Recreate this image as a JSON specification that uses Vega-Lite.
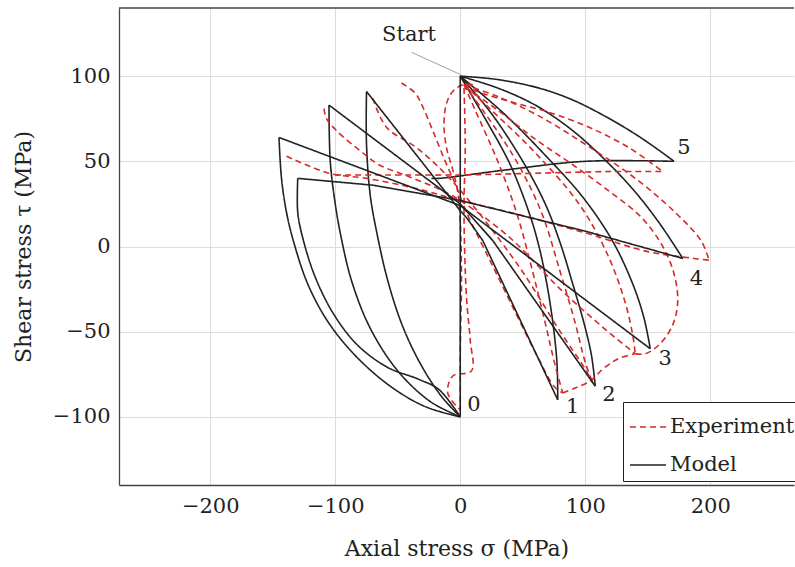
{
"$schema":"https://vega.github.io/schema/vega-lite/v6.json",
"width":675,"height":477,
"autosize":{"type":"none"},
"padding":{"left":119,"top":8,"right":1,"bottom":82},
"config":{"view":{"stroke":null},"font":"DejaVu Serif",
"axis":{"grid":true,"gridColor":"#dcdcdc","gridWidth":1,"domainColor":"#444","domainWidth":1.3,"ticks":false,"labelFontSize":21,"titleFontSize":22,"labelColor":"#222","titleColor":"#222","titleFontWeight":"normal","labelFont":"DejaVu Serif","titleFont":"DejaVu Serif"}},
"datasets":{
"curves":[
{"k":"l","s":"Model","p":"m0","i":0,"x":0,"y":100},{"k":"l","s":"Model","p":"m0","i":1,"x":0,"y":-100},
{"k":"s","s":"Model","p":"m1a","i":0,"x":0,"y":100},{"k":"s","s":"Model","p":"m1a","i":1,"x":20,"y":75},{"k":"s","s":"Model","p":"m1a","i":2,"x":40,"y":48},{"k":"s","s":"Model","p":"m1a","i":3,"x":55,"y":20},{"k":"s","s":"Model","p":"m1a","i":4,"x":63,"y":0},{"k":"s","s":"Model","p":"m1a","i":5,"x":70,"y":-25},{"k":"s","s":"Model","p":"m1a","i":6,"x":75,"y":-50},{"k":"s","s":"Model","p":"m1a","i":7,"x":77.5,"y":-70},{"k":"s","s":"Model","p":"m1a","i":8,"x":78,"y":-90},
{"k":"l","s":"Model","p":"m1b","i":0,"x":78,"y":-90},{"k":"l","s":"Model","p":"m1b","i":1,"x":18,"y":3.5},{"k":"l","s":"Model","p":"m1b","i":2,"x":6,"y":16},{"k":"l","s":"Model","p":"m1b","i":3,"x":0,"y":21},{"k":"l","s":"Model","p":"m1b","i":4,"x":-75,"y":91},
{"k":"s","s":"Model","p":"m1c","i":0,"x":-75,"y":91},{"k":"s","s":"Model","p":"m1c","i":1,"x":-75,"y":60},{"k":"s","s":"Model","p":"m1c","i":2,"x":-72,"y":30},{"k":"s","s":"Model","p":"m1c","i":3,"x":-67,"y":9},{"k":"s","s":"Model","p":"m1c","i":4,"x":-58,"y":-20},{"k":"s","s":"Model","p":"m1c","i":5,"x":-46,"y":-47},{"k":"s","s":"Model","p":"m1c","i":6,"x":-31,"y":-70},{"k":"s","s":"Model","p":"m1c","i":7,"x":-15,"y":-88},{"k":"s","s":"Model","p":"m1c","i":8,"x":0,"y":-100},
{"k":"s","s":"Model","p":"m2a","i":0,"x":0,"y":100},{"k":"s","s":"Model","p":"m2a","i":1,"x":25,"y":78},{"k":"s","s":"Model","p":"m2a","i":2,"x":50,"y":50},{"k":"s","s":"Model","p":"m2a","i":3,"x":68,"y":25},{"k":"s","s":"Model","p":"m2a","i":4,"x":80,"y":2},{"k":"s","s":"Model","p":"m2a","i":5,"x":90,"y":-22},{"k":"s","s":"Model","p":"m2a","i":6,"x":99,"y":-45},{"k":"s","s":"Model","p":"m2a","i":7,"x":105,"y":-64},{"k":"s","s":"Model","p":"m2a","i":8,"x":108,"y":-82},
{"k":"l","s":"Model","p":"m2b","i":0,"x":108,"y":-82},{"k":"l","s":"Model","p":"m2b","i":1,"x":26,"y":3.5},{"k":"l","s":"Model","p":"m2b","i":2,"x":0,"y":25},{"k":"l","s":"Model","p":"m2b","i":3,"x":-105,"y":83},
{"k":"s","s":"Model","p":"m2c","i":0,"x":-105,"y":83},{"k":"s","s":"Model","p":"m2c","i":1,"x":-104,"y":50},{"k":"s","s":"Model","p":"m2c","i":2,"x":-100,"y":25},{"k":"s","s":"Model","p":"m2c","i":3,"x":-96,"y":8},{"k":"s","s":"Model","p":"m2c","i":4,"x":-87,"y":-20},{"k":"s","s":"Model","p":"m2c","i":5,"x":-72,"y":-48},{"k":"s","s":"Model","p":"m2c","i":6,"x":-50,"y":-73},{"k":"s","s":"Model","p":"m2c","i":7,"x":-24,"y":-91},{"k":"s","s":"Model","p":"m2c","i":8,"x":0,"y":-100},
{"k":"s","s":"Model","p":"m3a","i":0,"x":0,"y":100},{"k":"s","s":"Model","p":"m3a","i":1,"x":35,"y":78},{"k":"s","s":"Model","p":"m3a","i":2,"x":70,"y":52},{"k":"s","s":"Model","p":"m3a","i":3,"x":98,"y":29},{"k":"s","s":"Model","p":"m3a","i":4,"x":122,"y":3},{"k":"s","s":"Model","p":"m3a","i":5,"x":138,"y":-22},{"k":"s","s":"Model","p":"m3a","i":6,"x":147,"y":-42},{"k":"s","s":"Model","p":"m3a","i":7,"x":152,"y":-60},
{"k":"l","s":"Model","p":"m3b","i":0,"x":152,"y":-60},{"k":"l","s":"Model","p":"m3b","i":1,"x":0,"y":24},{"k":"l","s":"Model","p":"m3b","i":2,"x":-145,"y":64},
{"k":"s","s":"Model","p":"m3c","i":0,"x":-145,"y":64},{"k":"s","s":"Model","p":"m3c","i":1,"x":-143,"y":40},{"k":"s","s":"Model","p":"m3c","i":2,"x":-139,"y":20},{"k":"s","s":"Model","p":"m3c","i":3,"x":-133,"y":2},{"k":"s","s":"Model","p":"m3c","i":4,"x":-122,"y":-22},{"k":"s","s":"Model","p":"m3c","i":5,"x":-106,"y":-44},{"k":"s","s":"Model","p":"m3c","i":6,"x":-84,"y":-64},{"k":"s","s":"Model","p":"m3c","i":7,"x":-56,"y":-82},{"k":"s","s":"Model","p":"m3c","i":8,"x":-28,"y":-94},{"k":"s","s":"Model","p":"m3c","i":9,"x":0,"y":-100},
{"k":"s","s":"Model","p":"m4a","i":0,"x":0,"y":100},{"k":"s","s":"Model","p":"m4a","i":1,"x":30,"y":93},{"k":"s","s":"Model","p":"m4a","i":2,"x":60,"y":83},{"k":"s","s":"Model","p":"m4a","i":3,"x":90,"y":68},{"k":"s","s":"Model","p":"m4a","i":4,"x":117,"y":50},{"k":"s","s":"Model","p":"m4a","i":5,"x":140,"y":32},{"k":"s","s":"Model","p":"m4a","i":6,"x":160,"y":13},{"k":"s","s":"Model","p":"m4a","i":7,"x":178,"y":-7},
{"k":"l","s":"Model","p":"m4b","i":0,"x":178,"y":-7},{"k":"l","s":"Model","p":"m4b","i":1,"x":100,"y":9},{"k":"l","s":"Model","p":"m4b","i":2,"x":0,"y":27},{"k":"l","s":"Model","p":"m4b","i":3,"x":-70,"y":36},{"k":"l","s":"Model","p":"m4b","i":4,"x":-130,"y":40},
{"k":"s","s":"Model","p":"m4c","i":0,"x":-130,"y":40},{"k":"s","s":"Model","p":"m4c","i":1,"x":-130,"y":20},{"k":"s","s":"Model","p":"m4c","i":2,"x":-126,"y":5},{"k":"s","s":"Model","p":"m4c","i":3,"x":-116,"y":-18},{"k":"s","s":"Model","p":"m4c","i":4,"x":-101,"y":-40},{"k":"s","s":"Model","p":"m4c","i":5,"x":-82,"y":-58},{"k":"s","s":"Model","p":"m4c","i":6,"x":-58,"y":-71},{"k":"s","s":"Model","p":"m4c","i":7,"x":-33,"y":-78},{"k":"s","s":"Model","p":"m4c","i":8,"x":-17,"y":-84},{"k":"s","s":"Model","p":"m4c","i":9,"x":0,"y":-100},
{"k":"s","s":"Model","p":"m5a","i":0,"x":0,"y":100},{"k":"s","s":"Model","p":"m5a","i":1,"x":30,"y":98},{"k":"s","s":"Model","p":"m5a","i":2,"x":63,"y":93},{"k":"s","s":"Model","p":"m5a","i":3,"x":90,"y":86},{"k":"s","s":"Model","p":"m5a","i":4,"x":117,"y":76},{"k":"s","s":"Model","p":"m5a","i":5,"x":140,"y":66},{"k":"s","s":"Model","p":"m5a","i":6,"x":158,"y":57},{"k":"s","s":"Model","p":"m5a","i":7,"x":171,"y":50},
{"k":"s","s":"Model","p":"m5b","i":0,"x":171,"y":50},{"k":"s","s":"Model","p":"m5b","i":1,"x":100,"y":50},{"k":"s","s":"Model","p":"m5b","i":2,"x":37,"y":45},{"k":"s","s":"Model","p":"m5b","i":3,"x":-17,"y":40},{"k":"s","s":"Model","p":"m5b","i":4,"x":-23,"y":40},
{"k":"s","s":"Experiment","p":"e0a","i":0,"x":10,"y":95},{"k":"s","s":"Experiment","p":"e0a","i":1,"x":2,"y":95},{"k":"s","s":"Experiment","p":"e0a","i":2,"x":-6,"y":91},{"k":"s","s":"Experiment","p":"e0a","i":3,"x":-11,"y":84},{"k":"s","s":"Experiment","p":"e0a","i":4,"x":-13,"y":72},{"k":"s","s":"Experiment","p":"e0a","i":5,"x":-11,"y":58},{"k":"s","s":"Experiment","p":"e0a","i":6,"x":-6,"y":45},{"k":"s","s":"Experiment","p":"e0a","i":7,"x":-2,"y":32},{"k":"s","s":"Experiment","p":"e0a","i":8,"x":0,"y":15},{"k":"s","s":"Experiment","p":"e0a","i":9,"x":1,"y":-20},{"k":"s","s":"Experiment","p":"e0a","i":10,"x":0,"y":-60},{"k":"s","s":"Experiment","p":"e0a","i":11,"x":0,"y":-95},
{"k":"s","s":"Experiment","p":"e0b","i":0,"x":3,"y":93},{"k":"s","s":"Experiment","p":"e0b","i":1,"x":4,"y":60},{"k":"s","s":"Experiment","p":"e0b","i":2,"x":3,"y":20},{"k":"s","s":"Experiment","p":"e0b","i":3,"x":5,"y":-30},{"k":"s","s":"Experiment","p":"e0b","i":4,"x":8,"y":-55},{"k":"s","s":"Experiment","p":"e0b","i":5,"x":9,"y":-73},{"k":"s","s":"Experiment","p":"e0b","i":6,"x":-6,"y":-76},{"k":"s","s":"Experiment","p":"e0b","i":7,"x":-10,"y":-86},{"k":"s","s":"Experiment","p":"e0b","i":8,"x":0,"y":-96},
{"k":"s","s":"Experiment","p":"e1","i":0,"x":-47,"y":96},{"k":"s","s":"Experiment","p":"e1","i":1,"x":-36,"y":90},{"k":"s","s":"Experiment","p":"e1","i":2,"x":-30,"y":82},{"k":"s","s":"Experiment","p":"e1","i":3,"x":-22,"y":68},{"k":"s","s":"Experiment","p":"e1","i":4,"x":-12,"y":50},{"k":"s","s":"Experiment","p":"e1","i":5,"x":-3,"y":35},{"k":"s","s":"Experiment","p":"e1","i":6,"x":5,"y":20},{"k":"s","s":"Experiment","p":"e1","i":7,"x":25,"y":-10},{"k":"s","s":"Experiment","p":"e1","i":8,"x":45,"y":-40},{"k":"s","s":"Experiment","p":"e1","i":9,"x":62,"y":-65},{"k":"s","s":"Experiment","p":"e1","i":10,"x":75,"y":-82},{"k":"s","s":"Experiment","p":"e1","i":11,"x":82,"y":-86},
{"k":"s","s":"Experiment","p":"e2","i":0,"x":-70,"y":87},{"k":"s","s":"Experiment","p":"e2","i":1,"x":-59,"y":70},{"k":"s","s":"Experiment","p":"e2","i":2,"x":-35,"y":58},{"k":"s","s":"Experiment","p":"e2","i":3,"x":-15,"y":45},{"k":"s","s":"Experiment","p":"e2","i":4,"x":0,"y":33},{"k":"s","s":"Experiment","p":"e2","i":5,"x":20,"y":15},{"k":"s","s":"Experiment","p":"e2","i":6,"x":50,"y":-15},{"k":"s","s":"Experiment","p":"e2","i":7,"x":80,"y":-50},{"k":"s","s":"Experiment","p":"e2","i":8,"x":100,"y":-72},{"k":"s","s":"Experiment","p":"e2","i":9,"x":106,"y":-80},
{"k":"s","s":"Experiment","p":"e3","i":0,"x":-109,"y":81},{"k":"s","s":"Experiment","p":"e3","i":1,"x":-107,"y":75},{"k":"s","s":"Experiment","p":"e3","i":2,"x":-99,"y":68},{"k":"s","s":"Experiment","p":"e3","i":3,"x":-78,"y":55},{"k":"s","s":"Experiment","p":"e3","i":4,"x":-65,"y":48},{"k":"s","s":"Experiment","p":"e3","i":5,"x":-41,"y":41},{"k":"s","s":"Experiment","p":"e3","i":6,"x":-15,"y":33},{"k":"s","s":"Experiment","p":"e3","i":7,"x":0,"y":27},{"k":"s","s":"Experiment","p":"e3","i":8,"x":40,"y":5},{"k":"s","s":"Experiment","p":"e3","i":9,"x":80,"y":-25},{"k":"s","s":"Experiment","p":"e3","i":10,"x":115,"y":-48},{"k":"s","s":"Experiment","p":"e3","i":11,"x":135,"y":-60},{"k":"s","s":"Experiment","p":"e3","i":12,"x":140,"y":-63},
{"k":"s","s":"Experiment","p":"e4","i":0,"x":-139,"y":53},{"k":"s","s":"Experiment","p":"e4","i":1,"x":-105,"y":43},{"k":"s","s":"Experiment","p":"e4","i":2,"x":-75,"y":40},{"k":"s","s":"Experiment","p":"e4","i":3,"x":-35,"y":34},{"k":"s","s":"Experiment","p":"e4","i":4,"x":0,"y":27},{"k":"s","s":"Experiment","p":"e4","i":5,"x":40,"y":20},{"k":"s","s":"Experiment","p":"e4","i":6,"x":100,"y":8},{"k":"s","s":"Experiment","p":"e4","i":7,"x":150,"y":-3},{"k":"s","s":"Experiment","p":"e4","i":8,"x":187,"y":-7},{"k":"s","s":"Experiment","p":"e4","i":9,"x":199,"y":-8},
{"k":"s","s":"Experiment","p":"e5","i":0,"x":-100,"y":42},{"k":"s","s":"Experiment","p":"e5","i":1,"x":-60,"y":42},{"k":"s","s":"Experiment","p":"e5","i":2,"x":0,"y":42},{"k":"s","s":"Experiment","p":"e5","i":3,"x":60,"y":43},{"k":"s","s":"Experiment","p":"e5","i":4,"x":120,"y":44},{"k":"s","s":"Experiment","p":"e5","i":5,"x":162,"y":44},
{"k":"s","s":"Experiment","p":"e6","i":0,"x":82,"y":-86},{"k":"s","s":"Experiment","p":"e6","i":1,"x":92,"y":-83},{"k":"s","s":"Experiment","p":"e6","i":2,"x":104,"y":-79},{"k":"s","s":"Experiment","p":"e6","i":3,"x":114,"y":-72},{"k":"s","s":"Experiment","p":"e6","i":4,"x":126,"y":-66},{"k":"s","s":"Experiment","p":"e6","i":5,"x":140,"y":-63},
{"k":"s","s":"Experiment","p":"e12","i":0,"x":5,"y":93},{"k":"s","s":"Experiment","p":"e12","i":1,"x":30,"y":80},{"k":"s","s":"Experiment","p":"e12","i":2,"x":60,"y":63},{"k":"s","s":"Experiment","p":"e12","i":3,"x":90,"y":48},{"k":"s","s":"Experiment","p":"e12","i":4,"x":120,"y":32},{"k":"s","s":"Experiment","p":"e12","i":5,"x":145,"y":17},{"k":"s","s":"Experiment","p":"e12","i":6,"x":162,"y":0},{"k":"s","s":"Experiment","p":"e12","i":7,"x":171,"y":-16},{"k":"s","s":"Experiment","p":"e12","i":8,"x":174,"y":-32},{"k":"s","s":"Experiment","p":"e12","i":9,"x":170,"y":-46},{"k":"s","s":"Experiment","p":"e12","i":10,"x":160,"y":-57},{"k":"s","s":"Experiment","p":"e12","i":11,"x":148,"y":-63},{"k":"s","s":"Experiment","p":"e12","i":12,"x":140,"y":-63},
{"k":"s","s":"Experiment","p":"e7","i":0,"x":3,"y":95},{"k":"s","s":"Experiment","p":"e7","i":1,"x":10,"y":92},{"k":"s","s":"Experiment","p":"e7","i":2,"x":40,"y":85},{"k":"s","s":"Experiment","p":"e7","i":3,"x":70,"y":79},{"k":"s","s":"Experiment","p":"e7","i":4,"x":103,"y":70},{"k":"s","s":"Experiment","p":"e7","i":5,"x":135,"y":58},{"k":"s","s":"Experiment","p":"e7","i":6,"x":162,"y":44},
{"k":"s","s":"Experiment","p":"e8","i":0,"x":3,"y":95},{"k":"s","s":"Experiment","p":"e8","i":1,"x":30,"y":88},{"k":"s","s":"Experiment","p":"e8","i":2,"x":62,"y":77},{"k":"s","s":"Experiment","p":"e8","i":3,"x":100,"y":60},{"k":"s","s":"Experiment","p":"e8","i":4,"x":140,"y":40},{"k":"s","s":"Experiment","p":"e8","i":5,"x":172,"y":20},{"k":"s","s":"Experiment","p":"e8","i":6,"x":193,"y":3},{"k":"s","s":"Experiment","p":"e8","i":7,"x":199,"y":-8},
{"k":"s","s":"Experiment","p":"e9","i":0,"x":3,"y":95},{"k":"s","s":"Experiment","p":"e9","i":1,"x":25,"y":80},{"k":"s","s":"Experiment","p":"e9","i":2,"x":60,"y":55},{"k":"s","s":"Experiment","p":"e9","i":3,"x":95,"y":25},{"k":"s","s":"Experiment","p":"e9","i":4,"x":118,"y":-5},{"k":"s","s":"Experiment","p":"e9","i":5,"x":132,"y":-33},{"k":"s","s":"Experiment","p":"e9","i":6,"x":138,"y":-52},{"k":"s","s":"Experiment","p":"e9","i":7,"x":140,"y":-63},
{"k":"s","s":"Experiment","p":"e10","i":0,"x":3,"y":95},{"k":"s","s":"Experiment","p":"e10","i":1,"x":20,"y":78},{"k":"s","s":"Experiment","p":"e10","i":2,"x":45,"y":50},{"k":"s","s":"Experiment","p":"e10","i":3,"x":65,"y":20},{"k":"s","s":"Experiment","p":"e10","i":4,"x":80,"y":-15},{"k":"s","s":"Experiment","p":"e10","i":5,"x":92,"y":-45},{"k":"s","s":"Experiment","p":"e10","i":6,"x":100,"y":-68},{"k":"s","s":"Experiment","p":"e10","i":7,"x":106,"y":-80},
{"k":"s","s":"Experiment","p":"e11","i":0,"x":3,"y":95},{"k":"s","s":"Experiment","p":"e11","i":1,"x":12,"y":80},{"k":"s","s":"Experiment","p":"e11","i":2,"x":30,"y":50},{"k":"s","s":"Experiment","p":"e11","i":3,"x":45,"y":20},{"k":"s","s":"Experiment","p":"e11","i":4,"x":58,"y":-15},{"k":"s","s":"Experiment","p":"e11","i":5,"x":68,"y":-45},{"k":"s","s":"Experiment","p":"e11","i":6,"x":76,"y":-70},{"k":"s","s":"Experiment","p":"e11","i":7,"x":82,"y":-86}
],
"labels":[
{"x":-41,"y":124,"t":"Start"},{"x":11,"y":-93,"t":"0"},{"x":90,"y":-94,"t":"1"},{"x":119,"y":-87,"t":"2"},{"x":164,"y":-66,"t":"3"},{"x":189,"y":-19,"t":"4"},{"x":179,"y":58,"t":"5"}
],
"leader":[{"x":-39,"y":114,"x2":0,"y2":101}]
},
"layer":[
{"data":{"name":"curves"},"transform":[{"filter":"datum.k == 's'"}],"mark":{"type":"line","strokeWidth":1.6,"clip":true,"interpolate":"catmull-rom"},
"encoding":{
"x":{"field":"x","type":"quantitative","scale":{"domain":[-273,267],"nice":false,"zero":false},"axis":{"values":[-200,-100,0,100,200],"title":"Axial stress σ (MPa)","labelPadding":10,"titlePadding":22}},
"y":{"field":"y","type":"quantitative","scale":{"domain":[-140,140],"nice":false},"axis":{"values":[-100,-50,0,50,100],"title":"Shear stress τ (MPa)","labelPadding":9,"titlePadding":17}},
"detail":{"field":"p"},"order":{"field":"i"},
"color":{"field":"s","type":"nominal","scale":{"domain":["Experiment","Model"],"range":["#d42a2a","#222222"]},
"legend":{"title":null,"orient":"none","legendX":504,"legendY":394,"strokeColor":"#222","fillColor":"white","padding":6,"labelFontSize":21,"labelFont":"DejaVu Serif","labelColor":"#222","symbolType":"stroke","symbolSize":1300,"symbolStrokeWidth":1.6,"rowPadding":9,"labelOffset":3}},
"strokeDash":{"field":"s","type":"nominal","scale":{"domain":["Experiment","Model"],"range":[[6,4],[1,0]]},"legend":{"title":null,"orient":"none","legendX":504,"legendY":394,"strokeColor":"#222","fillColor":"white","padding":6,"labelFontSize":21,"labelFont":"DejaVu Serif","labelColor":"#222","symbolType":"stroke","symbolSize":1300,"symbolStrokeWidth":1.6,"rowPadding":9,"labelOffset":3}}
}},
{"data":{"name":"curves"},"transform":[{"filter":"datum.k == 'l'"}],"mark":{"type":"line","strokeWidth":1.6,"clip":true},
"encoding":{
"x":{"field":"x","type":"quantitative"},
"y":{"field":"y","type":"quantitative"},
"detail":{"field":"p"},"order":{"field":"i"},
"color":{"field":"s","type":"nominal"},
"strokeDash":{"field":"s","type":"nominal"}
}},
{"data":{"name":"leader"},"mark":{"type":"rule","color":"#888","strokeWidth":0.8},"encoding":{"x":{"field":"x","type":"quantitative"},"y":{"field":"y","type":"quantitative"},"x2":{"field":"x2"},"y2":{"field":"y2"}}},
{"data":{"name":"labels"},"mark":{"type":"text","fontSize":21,"font":"DejaVu Serif","color":"#222"},"encoding":{"x":{"field":"x","type":"quantitative"},"y":{"field":"y","type":"quantitative"},"text":{"field":"t"}}},
{"data":{"values":[{"v":140}]},"mark":{"type":"rule","color":"#444","strokeWidth":1.3},"encoding":{"y":{"field":"v","type":"quantitative"}}}
]
}
